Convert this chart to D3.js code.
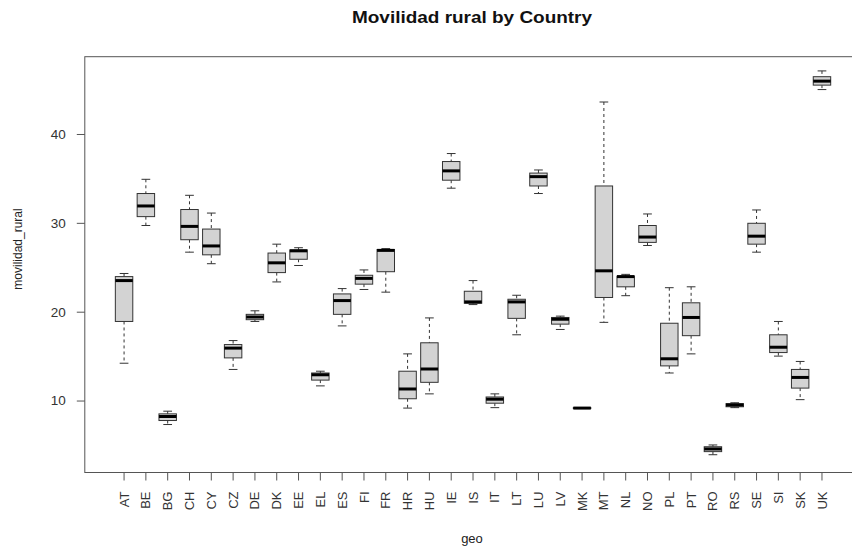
<!DOCTYPE html>
<html>
<head>
<meta charset="utf-8">
<script src="https://cdn.jsdelivr.net/npm/d3@7"></script>
<style>
body { margin: 0; background: #fff; }
text { font-family: "Liberation Sans", Arial, sans-serif; }
</style>
</head>
<body>
<script>
var svgWidth = 852;
var svgHeight = 554;

var countries = ['AT','BE','BG','CH','CY','CZ','DE','DK','EE','EL','ES','FI','FR','HR','HU','IE','IS','IT','LT','LU','LV','MK','MT','NL','NO','PL','PT','RO','RS','SE','SI','SK','UK'];
var whiskLo = [14.2,29.7,7.3,26.7,25.4,13.5,18.9,23.35,25.2,11.65,18.4,22.5,22.2,9.15,10.75,33.9,20.8,9.2,17.4,33.3,18.0,9.1,18.8,21.8,27.45,13.1,15.25,3.9,9.2,26.7,15.0,10.1,45.0];
var q1      = [18.9,30.7,7.75,28.1,26.4,14.8,19.1,24.4,25.9,12.3,19.7,23.1,24.5,10.2,12.05,34.8,20.95,9.7,19.25,34.15,18.6,9.1,21.6,22.8,27.8,13.9,17.3,4.25,9.3,27.6,15.4,11.4,45.5];
var med     = [23.5,31.9,8.2,29.6,27.4,15.9,19.4,25.5,26.85,12.9,21.25,23.75,26.9,11.3,13.55,35.85,21.1,10.15,21.1,35.2,19.15,9.15,24.6,23.95,28.4,14.7,19.35,4.55,9.5,28.5,16.0,12.6,45.95];
var q3      = [23.95,33.3,8.5,31.5,29.3,16.3,19.7,26.6,26.95,13.1,22.0,24.1,27.0,13.3,16.5,36.9,22.3,10.4,21.4,35.6,19.35,9.2,34.15,24.0,29.7,18.7,21.0,4.8,9.65,29.95,17.4,13.5,46.45];
var whiskHi = [24.3,34.9,8.8,33.1,31.1,16.75,20.1,27.6,27.2,13.3,22.6,24.7,27.1,15.25,19.3,37.8,23.5,10.75,21.85,35.95,19.5,9.2,43.6,24.2,31.0,22.7,22.8,5.0,9.75,31.45,18.9,14.4,47.1];
var yTicks = [10, 20, 30, 40];

var plotLeft = 84.8, plotRight = 850.5, plotTop = 56.7, plotBottom = 472.5;
var unit = (plotRight - plotLeft) / 35.64;

var boxes = countries.map(function(c, i){
	return {geo: c, lo: whiskLo[i], q1: q1[i], med: med[i], q3: q3[i], hi: whiskHi[i]};
});

var x = d3.scaleBand()
	.domain(countries)
	.range([plotLeft + 1.32 * unit, plotRight - 0.82 * unit]);

var y = d3.scaleLinear()
	.domain([1.9, 48.7])
	.range([plotBottom, plotTop]);

var boxW = x.bandwidth() * 0.8;

var svg = d3.select('body').append('svg')
	.attr('width', svgWidth)
	.attr('height', svgHeight);

// title and axis labels
svg.append('text')
	.attr('x', 472).attr('y', 23)
	.attr('text-anchor', 'middle')
	.attr('font-size', 16)
	.attr('font-weight', 'bold')
	.attr('fill', '#111')
	.attr('textLength', 240)
	.attr('lengthAdjust', 'spacingAndGlyphs')
	.text('Movilidad rural by Country');

svg.append('text')
	.attr('x', 472).attr('y', 543)
	.attr('text-anchor', 'middle')
	.attr('font-size', 13)
	.attr('fill', '#222')
	.text('geo');

svg.append('text')
	.attr('transform', 'translate(22,249) rotate(-90)')
	.attr('text-anchor', 'middle')
	.attr('font-size', 12)
	.attr('fill', '#222')
	.text('movilidad_rural');

// boxes
var g = svg.selectAll('g.box').data(boxes)
	.enter().append('g')
		.attr('class', 'box')
		.attr('transform', function(d){ return 'translate(' + (x(d.geo) + x.bandwidth()/2) + ',0)'; });

g.append('line')
	.attr('x1', 0).attr('x2', 0)
	.attr('y1', function(d){ return y(d.hi); })
	.attr('y2', function(d){ return y(d.q3); })
	.attr('stroke', '#333').attr('stroke-dasharray', '3,3');

g.append('line')
	.attr('x1', 0).attr('x2', 0)
	.attr('y1', function(d){ return y(d.q1); })
	.attr('y2', function(d){ return y(d.lo); })
	.attr('stroke', '#333').attr('stroke-dasharray', '3,3');

g.append('line')
	.attr('x1', -boxW/4).attr('x2', boxW/4)
	.attr('y1', function(d){ return y(d.hi); })
	.attr('y2', function(d){ return y(d.hi); })
	.attr('stroke', '#333');

g.append('line')
	.attr('x1', -boxW/4).attr('x2', boxW/4)
	.attr('y1', function(d){ return y(d.lo); })
	.attr('y2', function(d){ return y(d.lo); })
	.attr('stroke', '#333');

g.append('rect')
	.attr('x', -boxW/2)
	.attr('width', boxW)
	.attr('y', function(d){ return y(d.q3); })
	.attr('height', function(d){ return Math.max(0.5, y(d.q1) - y(d.q3)); })
	.attr('fill', '#d3d3d3')
	.attr('stroke', '#333');

g.append('line')
	.attr('x1', -boxW/2).attr('x2', boxW/2)
	.attr('y1', function(d){ return y(d.med); })
	.attr('y2', function(d){ return y(d.med); })
	.attr('stroke', '#000').attr('stroke-width', 3);

// frame (right side falls just past the picture edge)
svg.append('rect')
	.attr('x', plotLeft).attr('y', plotTop)
	.attr('width', plotRight - plotLeft + 3)
	.attr('height', plotBottom - plotTop)
	.attr('fill', 'none')
	.attr('stroke', '#555');

// axes
var yAxis = svg.append('g')
	.attr('transform', 'translate(' + plotLeft + ',0)')
	.call(d3.axisLeft(y).tickValues(yTicks).tickSize(8).tickPadding(11));

var xAxis = svg.append('g')
	.attr('transform', 'translate(0,' + plotBottom + ')')
	.call(d3.axisBottom(x).tickSize(8).tickPadding(11));

[yAxis, xAxis].forEach(function(ax){
	ax.select('.domain').remove();
	ax.selectAll('line').attr('stroke', '#555');
	ax.selectAll('text')
		.attr('font-size', 13.5)
		.attr('fill', '#333')
		.style('font-family', '"Liberation Sans", Arial, sans-serif');
});

xAxis.selectAll('text')
	.attr('font-size', 13)
	.attr('transform', 'rotate(-90)')
	.attr('text-anchor', 'end')
	.attr('x', -19)
	.attr('y', 0)
	.attr('dy', '0.35em');
</script>
</body>
</html>
